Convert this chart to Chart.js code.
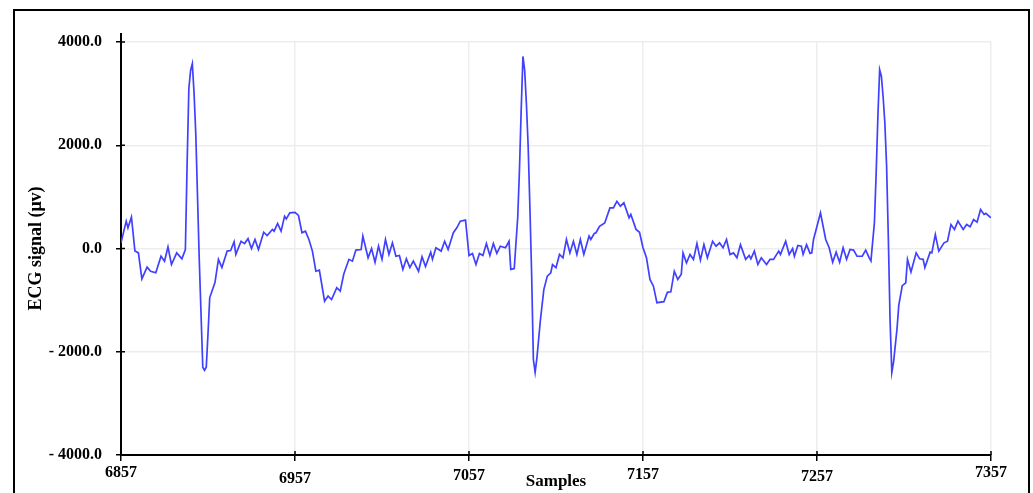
<!DOCTYPE html>
<html>
<head>
<meta charset="utf-8">
<title>ECG signal</title>
<script src="https://cdn.jsdelivr.net/npm/chart.js@4.4.0/dist/chart.umd.min.js"></script>
<style>
  html, body { margin: 0; padding: 0; background: #fff; }
  #wrap { position: relative; width: 1033px; height: 493px; overflow: hidden; }
  #frame { position: absolute; left: 13px; top: 9px; width: 1013px; height: 600px; border: 2px solid #000; }
  #ecg { position: absolute; left: 0; top: 0; }
</style>
</head>
<body>
<div id="wrap">
  <div id="frame"></div>
  <canvas id="ecg" width="1033" height="493"></canvas>
</div>
<script>
// sample numbers (x) and ECG amplitude in microvolts (y)
var samples = [
  6857, 6860, 6861, 6863, 6865, 6867, 6869, 6872, 6874, 6877, 6880, 6882, 6884, 6886, 6889, 6892, 6894,
  6895, 6896, 6897, 6898, 6899, 6900, 6902, 6904, 6905, 6906, 6907, 6908, 6911, 6913, 6915, 6918, 6920, 6922, 6923, 6926, 6928, 6930, 6932, 6934, 6936,
  6939, 6941, 6944, 6945, 6947, 6949, 6951, 6952, 6954, 6957, 6959, 6961, 6963, 6965, 6967, 6969, 6971, 6974, 6976, 6978,
  6981, 6983, 6985, 6988, 6990, 6992, 6995, 6996, 6999, 7001, 7003, 7005, 7007, 7009, 7011, 7013, 7015, 7017, 7019, 7021,
  7023, 7025, 7028, 7030, 7032, 7035, 7036, 7038, 7041, 7043, 7045, 7048, 7050, 7052, 7055, 7057, 7059, 7061, 7063, 7065,
  7067, 7069, 7071, 7073, 7075, 7078, 7080, 7081, 7083, 7085, 7086, 7087, 7088, 7089, 7090, 7091, 7092, 7093, 7094, 7095, 7096, 7098, 7100, 7102, 7104,
  7105, 7107, 7109, 7111, 7113, 7115, 7117, 7119, 7121, 7123, 7126, 7127, 7129, 7130, 7132, 7135, 7138, 7140, 7142, 7144, 7146, 7149, 7150, 7153, 7155,
  7157, 7159, 7161, 7163, 7165, 7169, 7171, 7173, 7175, 7177, 7179, 7180, 7182, 7184, 7186, 7188, 7190, 7192, 7194, 7197,
  7199, 7201, 7203, 7205, 7207, 7209, 7211, 7213, 7216, 7218, 7219, 7221, 7223, 7225, 7228, 7230, 7232, 7235, 7236, 7239,
  7241, 7243, 7244, 7246, 7248, 7249, 7251, 7253, 7254, 7255, 7257, 7259, 7262, 7264, 7266, 7268, 7270, 7272, 7274, 7276,
  7278, 7280, 7283, 7285, 7287, 7288, 7290, 7291, 7292, 7293, 7294, 7295, 7296, 7297, 7298, 7299, 7300, 7301, 7303, 7304, 7306, 7308, 7309, 7311,
  7314, 7316, 7318, 7319, 7322, 7323, 7325, 7327, 7330, 7332, 7334, 7336, 7338, 7341, 7343, 7345, 7347, 7349, 7351, 7353, 7354, 7357
];
var ecgValues = [
  110, 530, 400, 610, -50, -85, -590, -360, -440, -470, -150, -245, 30, -310, -85, -200, -20,
  1640, 3100, 3450, 3580, 3000, 2200, -240, -2300, -2360, -2300, -1650, -950, -660, -210, -370, -50, -40, 130, -115, 140, 95, 190, 0, 175, -20,
  315, 250, 370, 335, 485, 335, 625, 575, 690, 700, 640, 305, 335, 175, -50, -440, -420, -1020, -920, -990,
  -760, -825, -500, -210, -245, -30, -20, 240, -180, 0, -265, 45, -210, 175, -115, 110, -150, -135, -405, -200,
  -370, -245, -440, -160, -350, -70, -210, 15, -50, 140, -20, 305, 400, 530, 550, -135, -95, -310, -95, -135,
  95, -135, 95, -95, 45, 15, 140, -405, -390, 600, 1520, 2690, 3720, 3450, 2800, 1980, 800, -500, -2150, -2400, -2130, -1400, -795, -535, -470,
  -310, -370, -115, -180, 175, -85, 140, -115, 175, -115, 240, 175, 290, 305, 430, 495, 785, 785, 915, 820, 885, 595, 660, 370, 315,
  15, -180, -600, -730, -1050, -1030, -850, -840, -440, -600, -500, -85, -280, -115, -210, 95, -225, 75, -180, 140,
  45, 110, 15, 175, -115, -85, -180, 75, -210, -135, -200, -50, -310, -180, -310, -210, -210, -50, -115, 140,
  -115, 0, -150, 60, 45, -115, 75, -95, -85, 175, 430, 690, 175, 15, -265, -70, -265, 15, -210, -20,
  -30, -150, -150, -30, -180, -240, 500, 1460, 2560, 3465, 3340, 2940, 2430, 1600, 200, -1400, -2400, -2200, -1550, -1100, -720, -665, -210, -455,
  -85, -200, -210, -370, -70, -85, 270, -50, 110, 140, 465, 370, 530, 370, 465, 420, 560, 510, 755, 660, 680, 595
];
var xTicks = [6857, 6957, 7057, 7157, 7257, 7357];
var yTicks = [-4000, -2000, 0, 2000, 4000];

// the x tick labels sit at slightly different heights in the original
var xLabelDrop = [0, 6, 3, 2, 4, 0];

var serif = "'Liberation Serif', 'Times New Roman', serif";

var points = samples.map(function(s, i) { return { x: s, y: ecgValues[i] }; });

// small black tick marks inside the plot + y axis running a bit above the top tick
var innerTicks = {
  id: 'innerTicks',
  beforeDatasetsDraw: function(chart) {
    var c = chart.ctx, a = chart.chartArea;
    var xs = chart.scales.x, ys = chart.scales.y;
    c.save();
    c.strokeStyle = '#000';
    c.lineWidth = 1.5;
    c.beginPath();
    xTicks.forEach(function(v) {
      var px = xs.getPixelForValue(v);
      c.moveTo(px, a.bottom);
      c.lineTo(px, a.bottom - 4);
    });
    yTicks.forEach(function(v) {
      var py = ys.getPixelForValue(v);
      c.moveTo(a.left, py);
      c.lineTo(a.left + 4, py);
    });
    c.stroke();
    c.lineWidth = 2;
    c.beginPath();
    c.moveTo(a.left, a.top);
    c.lineTo(a.left, a.top - 9);
    c.stroke();
    c.restore();
  }
};

var ctx = document.getElementById('ecg').getContext('2d');
window.ecgChart = new Chart(ctx, {
  type: 'line',
  data: {
    datasets: [{
      data: points,
      borderColor: '#4040ff',
      borderWidth: 1.7,
      pointRadius: 0,
      tension: 0,
      fill: false
    }]
  },
  options: {
    responsive: false,
    animation: false,
    layout: { padding: { left: 0, right: 42, top: 42, bottom: 0 } },
    plugins: {
      legend: { display: false },
      tooltip: { enabled: false }
    },
    scales: {
      x: {
        type: 'linear',
        min: 6857,
        max: 7357,
        afterBuildTicks: function(scale) {
          scale.ticks = xTicks.map(function(v) { return { value: v }; });
        },
        afterFit: function(scale) { scale.height = 38; },
        grid: { color: '#ededed', lineWidth: 1.5, tickColor: '#000', tickLength: 6, tickWidth: 1.5 },
        border: { color: '#000', width: 2 },
        ticks: {
          color: '#000',
          padding: 2,
          autoSkip: false,
          maxRotation: 0,
          font: function(c) {
            var d = xLabelDrop[c.index] || 0;
            return { family: serif, size: 16, weight: 'bold', lineHeight: (19 + 2 * d) / 16 };
          },
          callback: function(v) { return String(v); }
        },
        title: {
          display: true,
          text: 'Samples',
          color: '#000',
          font: { family: serif, size: 17, weight: 'bold' },
          padding: { top: 0, bottom: 1 }
        }
      },
      y: {
        min: -4000,
        max: 4000,
        afterBuildTicks: function(scale) {
          scale.ticks = yTicks.map(function(v) { return { value: v }; });
        },
        afterFit: function(scale) { scale.width = 121; },
        grid: { color: '#ededed', lineWidth: 1.5, tickColor: '#000', tickLength: 5, tickWidth: 1.5 },
        border: { color: '#000', width: 2 },
        ticks: {
          color: '#000',
          padding: 14,
          font: { family: serif, size: 16, weight: 'bold' },
          callback: function(v) {
            return v < 0 ? '- ' + (-v).toFixed(1) : v.toFixed(1);
          }
        },
        title: {
          display: true,
          text: 'ECG signal (μv)',
          color: '#000',
          font: { family: serif, size: 18, weight: 'bold' },
          padding: { top: 26, bottom: 0 }
        }
      }
    }
  },
  plugins: [innerTicks]
});
</script>
</body>
</html>
